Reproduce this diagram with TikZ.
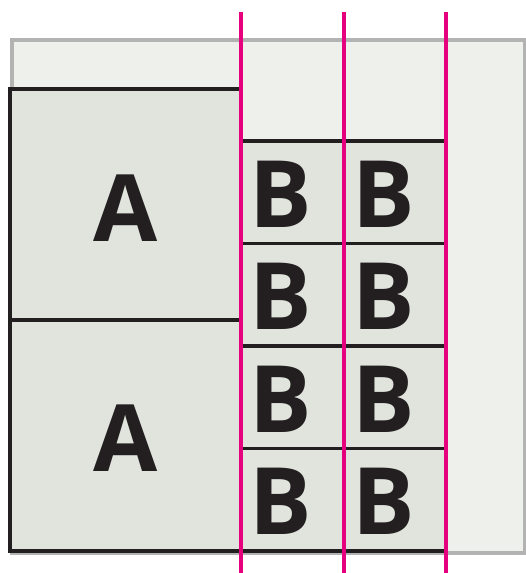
\documentclass[tikz,border=0pt]{standalone}
\usepackage{fontspec}
\newfontfamily\labelfont{Open Sans}[BoldFont={* Bold}]
\definecolor{inkblack}{HTML}{231F20}
\definecolor{cutpink}{HTML}{E6007E}
\definecolor{framegray}{HTML}{B3B3B3}
\definecolor{fabricbg}{HTML}{EEF0EC}
\definecolor{fabricpc}{HTML}{E0E4DD}
\begin{document}
\begin{tikzpicture}[x=1pt,y=-1pt,
  bpiece/.style={fill=fabricpc,inner sep=0pt,outer sep=0pt,anchor=north west},
  seam/.style={draw=inkblack,line width=3.5pt},
  letter/.style={font=\labelfont\bfseries\fontsize{93}{93}\selectfont,text=inkblack,inner sep=0pt},
  cutline/.style={draw=cutpink,line width=4pt}]
\useasboundingbox (0,0) rectangle (526,573);
% fabric background
\node[draw=framegray,line width=3.5pt,fill=fabricbg,inner sep=0pt,anchor=north west,
  minimum width=513pt,minimum height=513pt] (bg) at (10,38) {};
% A pieces
\node[bpiece,minimum width=230.5pt,minimum height=231pt] (A1) at (10,89) {};
\node[bpiece,minimum width=230.5pt,minimum height=231pt] (A2) at (10,320) {};
\draw[seam,line join=miter] (A1.north east) -- (A1.north west) -- (A2.south west) -- (A2.south east);
\draw[seam] (A1.south west) -- (A1.south east);
% B pieces
\foreach \c/\x in {1/240.5,2/344}{
  \foreach \r/\y in {1/141,2/243.5,3/346,4/448.5}{
    \node[bpiece,minimum width=102pt,minimum height=102.5pt] (B\c\r) at (\x,\y) {};
  }
}
\foreach \r in {1,2,3,4}{
  \draw[seam] (B1\r.north west) -- (B2\r.north east);
}
\draw[seam] (B14.south west) -- (B24.south east);
% letters
\node[letter] (la1) at (125.5,208) {A};
\node[letter] (la2) at (125.5,438) {A};
\foreach \c/\x in {1/281,2/383.5}{
  \foreach \r/\y in {1/194,2/296.5,3/399,4/501.5}{
    \node[letter] (lb\c\r) at (\x,\y) {B};
  }
}
% cut lines
\coordinate (t1) at (240.5,12); \coordinate (b1) at (240.5,573);
\coordinate (t2) at (344,12);   \coordinate (b2) at (344,573);
\coordinate (t3) at (446,12);   \coordinate (b3) at (446,573);
\draw[cutline] (t1) -- (b1);
\draw[cutline] (t2) -- (b2);
\draw[cutline] (t3) -- (b3);
\end{tikzpicture}
\end{document}
